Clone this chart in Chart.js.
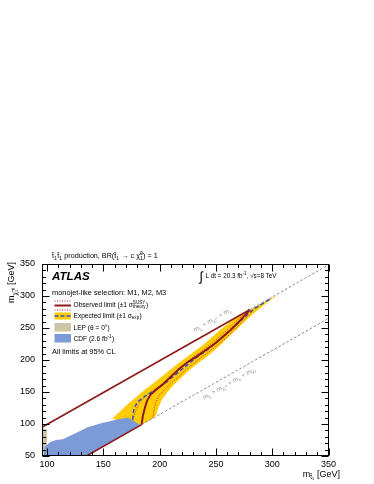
<!DOCTYPE html>
<html>
<head>
<meta charset="utf-8">
<script src="https://cdn.jsdelivr.net/npm/chart.js@4.4.1/dist/chart.umd.min.js"></script>
<style>
  html,body{margin:0;padding:0;background:#fff;}
  canvas{display:block;}
</style>
</head>
<body>
<canvas id="c" width="374" height="484"></canvas>
<script>
// axis ticks
const xTicks=[100,150,200,250,300,350];
const yTicks=[50,100,150,200,250,300,350];

// kinematic boundaries (m_chi = m_stop - m_c, m_chi = m_stop - m_b - m_W)
const upperKinSolid=[[95.5,95],[280,278.5]];
const upperKinDashed=[[280,278.5],[350,348.5]];
const lowerKinSolid=[[135,50],[184,99]];
const lowerKinDashed=[[184,99],[350,265]];

// observed limit and theory +-1 sigma
const observed=[[184,99],[185,112],[187,126],[189,137],[192,146],[197,154],[203,162],[210,174],[218,187],[226,198],[235,208],[243,218],[250,227],[256,236],[263,247],[270,259],[276,270],[280,278.5]];
const theoryUp=[[176,103],[178,118],[181,130],[185,140],[191,148],[198,157],[205,167],[212,179],[220,191],[228,202],[236,212],[244,223],[251,233],[258,244],[265,256],[272,267],[277,275.5]];
const theoryDown=[[194,109],[195,122],[197,135],[200,146],[205,155],[211,165],[218,176],[226,189],[234,200],[242,210],[249,220],[256,230],[263,241],[270,253],[276,264],[281,274],[284,281]];

// expected limit and +-1 sigma band
const expected=[[176,107],[177,122],[180,134],[185,141],[191,148],[197,154],[205,164],[214,177],[223,190],[232,203],[241,214],[250,227],[259,241],[268,255],[276,268],[284,280],[292,289],[298,295]];
const bandUpper=[[158,109],[165,120],[171,130],[177,139],[183,148],[190,158],[197,167],[204,177],[211,187],[218,197],[225,206],[232,215],[239,224],[246,235],[253,246],[260,256],[267,265],[274,272],[281,279],[289,287],[297,295],[305,301]];
const bandLower=[[158,109],[170,100],[184,99],[193,108],[197,114],[199,126],[202,138],[207,150],[213,162],[220,174],[227,185],[234,195],[241,204],[248,214],[255,225],[262,237],[269,249],[276,261],[283,272],[290,282],[297,292],[305,301]];

// previous experiments
const cdfTop=[[97,50],[97.5,63],[99,66],[103,72],[108,75],[114,76],[121,82],[128,88],[136,95],[142,98],[148,101],[155,104],[162,107],[168,109],[172,110],[183,98]];
const cdfBottom=[[97,50],[135,50],[183,98]];
const lep=[[95.5,92],[98.5,92],[100,91]];

const FAM='"Liberation Sans", Arial, sans-serif';
const RED='#8c1a1a', YEL='#ffcc00', BLUE='#7b9ad6', TAN='#cdc6a6', GREY='#8a8a8a';

const pts=a=>a.map(([x,y])=>({x,y}));
function line(data,color,width,dash,order){
  return {data:pts(data),borderColor:color,borderWidth:width,borderDash:dash||[],pointRadius:0,fill:false,order};
}
function area(data,color,fill,order){
  return {data:pts(data),backgroundColor:color,borderWidth:0,pointRadius:0,fill,order};
}

// tiny rich text: strings, ['_',s], ['^',s], ['_^',sub,sup]
function richWidth(ctx,parts,size,style){
  let w=0;
  for(const p of parts){
    if(typeof p==='string'){ctx.font=`${style||''} ${size}px ${FAM}`;w+=ctx.measureText(p).width;}
    else{ctx.font=`${size*0.7}px ${FAM}`;w+=Math.max(...p.slice(1).map(s=>ctx.measureText(s).width))+size*0.05;}
  }
  return w;
}
function rich(ctx,parts,x,y,size,align,style){
  const w=richWidth(ctx,parts,size,style);
  let cx=align==='right'?x-w:align==='center'?x-w/2:x;
  ctx.textAlign='left';ctx.textBaseline='alphabetic';
  for(const p of parts){
    if(typeof p==='string'){
      ctx.font=`${style||''} ${size}px ${FAM}`;ctx.fillText(p,cx,y);cx+=ctx.measureText(p).width;
    }else{
      ctx.font=`${size*0.7}px ${FAM}`;
      const k=p[0];
      if(k==='_') ctx.fillText(p[1],cx,y+size*0.3);
      if(k==='^') ctx.fillText(p[1],cx,y-size*0.42);
      if(k==='_^'){ctx.fillText(p[1],cx,y+size*0.3);ctx.fillText(p[2],cx,y-size*0.42);}
      cx+=Math.max(...p.slice(1).map(s=>ctx.measureText(s).width))+size*0.05;
    }
  }
}

const frame={id:'frame',afterDatasetsDraw(c){
  const {ctx,chartArea:a,scales:{x,y}}=c;
  ctx.save();
  ctx.strokeStyle='#000';ctx.lineWidth=1;
  const L=Math.round(a.left)+.5,R=Math.round(a.right)-.5,T=Math.round(a.top)+.5,B=Math.round(a.bottom)-.5;
  ctx.strokeRect(L,T,R-L,B-T);
  ctx.beginPath();
  for(let v=100;v<=350;v+=10){
    const px=Math.round(x.getPixelForValue(v))+.5, len=v%50===0?7:3.5;
    ctx.moveTo(px,B);ctx.lineTo(px,B-len);
    ctx.moveTo(px,T);ctx.lineTo(px,T+len);
  }
  for(let v=50;v<=350;v+=10){
    const py=Math.round(y.getPixelForValue(v))+.5, len=v%50===0?7:3.5;
    ctx.moveTo(L,py);ctx.lineTo(L+len,py);
    ctx.moveTo(R,py);ctx.lineTo(R-len,py);
  }
  ctx.stroke();
  ctx.restore();
}};

const labels={id:'labels',afterDraw(c){
  const {ctx,chartArea:a,scales:{x,y}}=c;
  ctx.save();
  ctx.fillStyle='#000';
  // title
  rich(ctx,['t\u0303',['_','1'],'t\u0303',['_','1'],' production, BR(','t\u0303',['_','1'],' \u2192 c ','\u03c7\u0303',['_^','1','0'],') = 1'],52,258,7.2);
  // ATLAS + selection
  rich(ctx,['ATLAS'],52,279.5,11.6,'left','italic bold');
  rich(ctx,['monojet-like selection: M1, M2, M3'],52,294.5,7.4);
  // legend
  const lx=54.5,lw=16.5;
  ctx.strokeStyle='#d02828';ctx.lineWidth=1;ctx.setLineDash([1,1.5]);
  ctx.beginPath();ctx.moveTo(lx,301);ctx.lineTo(lx+lw,301);ctx.moveTo(lx,310);ctx.lineTo(lx+lw,310);ctx.stroke();
  ctx.setLineDash([]);ctx.strokeStyle=RED;ctx.lineWidth=2;
  ctx.beginPath();ctx.moveTo(lx,305.5);ctx.lineTo(lx+lw,305.5);ctx.stroke();
  ctx.fillStyle=YEL;ctx.fillRect(lx,312.5,lw,7);
  ctx.strokeStyle='#3050c8';ctx.lineWidth=1.5;ctx.setLineDash([4,2]);
  ctx.beginPath();ctx.moveTo(lx,316);ctx.lineTo(lx+lw,316);ctx.stroke();ctx.setLineDash([]);
  ctx.fillStyle=TAN;ctx.fillRect(lx,323,lw,8.5);
  ctx.fillStyle=BLUE;ctx.fillRect(lx,334,lw,8.5);
  ctx.fillStyle='#000';
  rich(ctx,['Observed limit (\u00b11 \u03c3',['_^','theory','SUSY'],')'],73.5,306.5,6.6);
  rich(ctx,['Expected limit (\u00b11 \u03c3',['_','exp'],')'],73.5,317.5,6.6);
  rich(ctx,['LEP (\u03b8 = 0\u00b0)'],73.5,329.8,6.6);
  rich(ctx,['CDF (2.6 fb',['^','-1'],')'],73.5,340.8,6.6);
  rich(ctx,['All limits at 95% CL'],52,353.5,7.4);
  // lumi
  rich(ctx,['\u222b'],199.5,281,13);
  rich(ctx,['L dt = 20.3 fb',['^','-1'],', \u221as=8 TeV'],205.5,277.5,6.3);
  // axis titles
  rich(ctx,['m',['_','t\u0303\u2081'],' [GeV]'],340,476.5,9,'right');
  ctx.translate(14,262);ctx.rotate(-Math.PI/2);
  rich(ctx,['m',['_','\u03c7\u0303\u2081\u2070'],' [GeV]'],0,0,9,'right');
  ctx.setTransform(1,0,0,1,0,0);
  // kinematic labels along the diagonals
  const ang=Math.atan2(y.getPixelForValue(298.5)-y.getPixelForValue(198.5),x.getPixelForValue(300)-x.getPixelForValue(200));
  const put=(parts,xv,yv,off)=>{
    const px=x.getPixelForValue(xv),py=y.getPixelForValue(yv);
    ctx.save();
    ctx.translate(px+Math.sin(ang)*off,py-Math.cos(ang)*off);
    ctx.rotate(ang);
    ctx.fillStyle='#9a9a9a';
    rich(ctx,parts,0,2.3,6.4,'center');
    ctx.restore();
  };
  put(['m',['_','t\u0303\u2081'],' < m',['_','\u03c7\u0303\u2081\u2070'],' + m',['_','c']],251,249.5,10);
  put(['m',['_','t\u0303\u2081'],' > m',['_','\u03c7\u0303\u2081\u2070'],' + m',['_','b'],' + m',['_','W']],258.5,173.5,-7);
  ctx.restore();
}};

new Chart(document.getElementById('c'),{
  type:'line',
  data:{datasets:[
    area(bandUpper,YEL,'+1',10),
    area(bandLower,YEL,false,10),
    area(lep,TAN,{value:50},9),
    line(theoryUp,'#d02828',1,[1,1.5],6),
    line(theoryDown,'#d02828',1,[1,1.5],6),
    line(expected,'#3050c8',1.5,[4,2.5],5),
    line(observed,RED,2,null,4),
    area(cdfTop,BLUE,'+1',3),
    area(cdfBottom,BLUE,false,3),
    line(upperKinSolid,RED,1.6,null,1),
    line(upperKinDashed,GREY,1,[2.5,2],1),
    line(lowerKinSolid,RED,1.6,null,1),
    line(lowerKinDashed,GREY,1,[2.5,2],1)
  ]},
  options:{
    responsive:false,animation:false,devicePixelRatio:1,
    layout:{padding:{top:264,right:45.5,left:0,bottom:0}},
    plugins:{legend:{display:false},tooltip:{enabled:false}},
    scales:{
      x:{type:'linear',min:95.5,max:350,
        grid:{display:false,drawTicks:false},border:{display:false},
        ticks:{font:{family:FAM,size:9},color:'#000',padding:3,maxRotation:0,autoSkip:false},
        afterBuildTicks:s=>{s.ticks=xTicks.map(v=>({value:v}));},
        afterFit:s=>{s.height=28;}},
      y:{type:'linear',min:50,max:350,
        grid:{display:false,drawTicks:false},border:{display:false},
        ticks:{font:{family:FAM,size:9},color:'#000',padding:7,autoSkip:false},
        afterBuildTicks:s=>{s.ticks=yTicks.map(v=>({value:v}));},
        afterFit:s=>{s.width=42;}}
    }
  },
  plugins:[frame,labels]
});
</script>
</body>
</html>
